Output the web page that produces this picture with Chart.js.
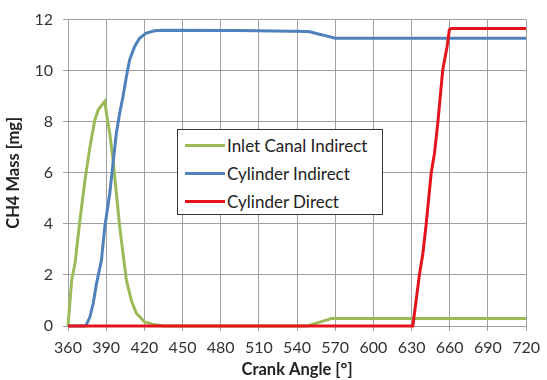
<!DOCTYPE html>
<html>
<head>
<meta charset="utf-8">
<script src="https://cdn.jsdelivr.net/npm/chart.js@4/dist/chart.umd.min.js"></script>
<style>
  html, body { margin: 0; padding: 0; background: #fff; }
  #wrap { position: relative; width: 547px; height: 380px; }
  #legend {
    position: absolute; left: 177px; top: 129px; width: 204px; height: 84px;
    border: 1px solid #333; background: #fff; box-sizing: content-box;
    font-family: Lato, "Open Sans", sans-serif; font-size: 17px; color: #222;
  }
  .row { position: absolute; left: 7px; height: 22px; display: flex; align-items: center; white-space: nowrap; }
  .sw { width: 40px; height: 3px; margin-right: 2px; }
</style>
</head>
<body>
<div id="wrap">
  <canvas id="c" width="547" height="380"></canvas>
  <div id="legend"></div>
</div>
<script>
// ---- data ----
const seriesNames = ["Inlet Canal Indirect", "Cylinder Indirect", "Cylinder Direct"];
const seriesColors = ["#9bbb59", "#4f81bd", "#e3141b"];

const inletAngle = [360, 362.9, 365.5, 369.4, 373.3, 377.2, 381.1, 383.7, 387.6, 388.9, 390.2, 392.8, 395.4, 398, 400.6, 403.2, 405.9, 409.8, 413.7, 420.2, 426.6, 435, 548, 556, 567, 720];
const inletMass  = [0, 1.8, 2.45, 4.15, 5.7, 7.0, 8.07, 8.46, 8.72, 8.8, 8.33, 7.55, 6.5, 5.2, 3.9, 2.85, 1.8, 1.0, 0.5, 0.16, 0.07, 0, 0, 0.12, 0.29, 0.29];

const cylIndAngle = [360, 373.5, 374.6, 377.2, 379.8, 382.4, 386.3, 388.9, 392.8, 395.4, 398, 400.6, 403.2, 405.9, 408.4, 412.3, 416.2, 421.5, 428, 435, 495, 549, 560, 570, 720];
const cylIndMass  = [0, 0, 0.07, 0.35, 0.88, 1.66, 2.58, 3.88, 5.19, 6.37, 7.55, 8.33, 8.98, 9.76, 10.42, 10.94, 11.27, 11.47, 11.56, 11.58, 11.57, 11.53, 11.4, 11.27, 11.27];

const cylDirAngle = [360, 631, 636.3, 638.9, 641.5, 645.4, 648, 650.6, 654.5, 657.9, 659.7, 661, 720];
const cylDirMass  = [0, 0, 2.05, 2.84, 4.0, 5.98, 6.76, 7.94, 10.03, 10.94, 11.6, 11.65, 11.65];

const xTicks = [360, 390, 420, 450, 480, 510, 540, 570, 600, 630, 660, 690, 720];
const yTicks = [0, 2, 4, 6, 8, 10, 12];
const xTitle = "Crank Angle [°]";
const yTitle = "CH4 Mass [mg]";

function pts(xs, ys) { return xs.map((x, i) => ({ x: x, y: ys[i] })); }

const angles = [inletAngle, cylIndAngle, cylDirAngle];
const masses = [inletMass, cylIndMass, cylDirMass];
const orders = [2, 1, 0];

const datasets = seriesNames.map((n, i) => ({
  label: n,
  data: pts(angles[i], masses[i]),
  borderColor: seriesColors[i],
  backgroundColor: seriesColors[i],
  borderWidth: 3,
  pointRadius: 0,
  tension: 0,
  fill: false,
  clip: 4,
  order: orders[i]
}));

// HTML legend
const lg = document.getElementById('legend');
seriesNames.forEach((n, i) => {
  const r = document.createElement('div');
  r.className = 'row';
  r.style.top = (4 + i * 28) + 'px';
  const s = document.createElement('div');
  s.className = 'sw';
  s.style.background = seriesColors[i];
  const t = document.createElement('span');
  t.textContent = n;
  r.appendChild(s); r.appendChild(t);
  lg.appendChild(r);
});

const gridColor = '#a0a0a0';
const font = { family: 'Lato, "Open Sans", sans-serif', size: 16 };
const titleFont = { family: 'Lato, "Open Sans", sans-serif', size: 16.5, weight: 'bold' };

new Chart(document.getElementById('c'), {
  type: 'line',
  data: { datasets: datasets },
  options: {
    responsive: false,
    animation: false,
    events: [],
    layout: { padding: { left: 4, right: 18, top: 16, bottom: 0 } },
    plugins: { legend: { display: false }, tooltip: { enabled: false } },
    scales: {
      x: {
        type: 'linear',
        min: 360, max: 720,
        afterBuildTicks: (s) => { s.ticks = xTicks.map(v => ({ value: v })); },
        afterFit: (s) => { s.height = 54; },
        ticks: { color: '#333', font: font, padding: 7, maxRotation: 0, autoSkip: false },
        grid: { color: gridColor, tickLength: 5, lineWidth: 1 },
        border: { color: gridColor },
        title: { display: true, text: xTitle, color: '#222', font: titleFont, padding: { top: 0, bottom: 0 } }
      },
      y: {
        type: 'linear',
        min: 0, max: 12,
        afterBuildTicks: (s) => { s.ticks = yTicks.map(v => ({ value: v })); },
        afterFit: (s) => { s.width = 64; },
        ticks: { color: '#333', font: font, padding: 10 },
        grid: { color: gridColor, tickLength: 5, lineWidth: 1 },
        border: { color: gridColor },
        title: { display: true, text: yTitle, color: '#222', font: titleFont, padding: { top: 0, bottom: 2 } }
      }
    }
  }
});
</script>
</body>
</html>
